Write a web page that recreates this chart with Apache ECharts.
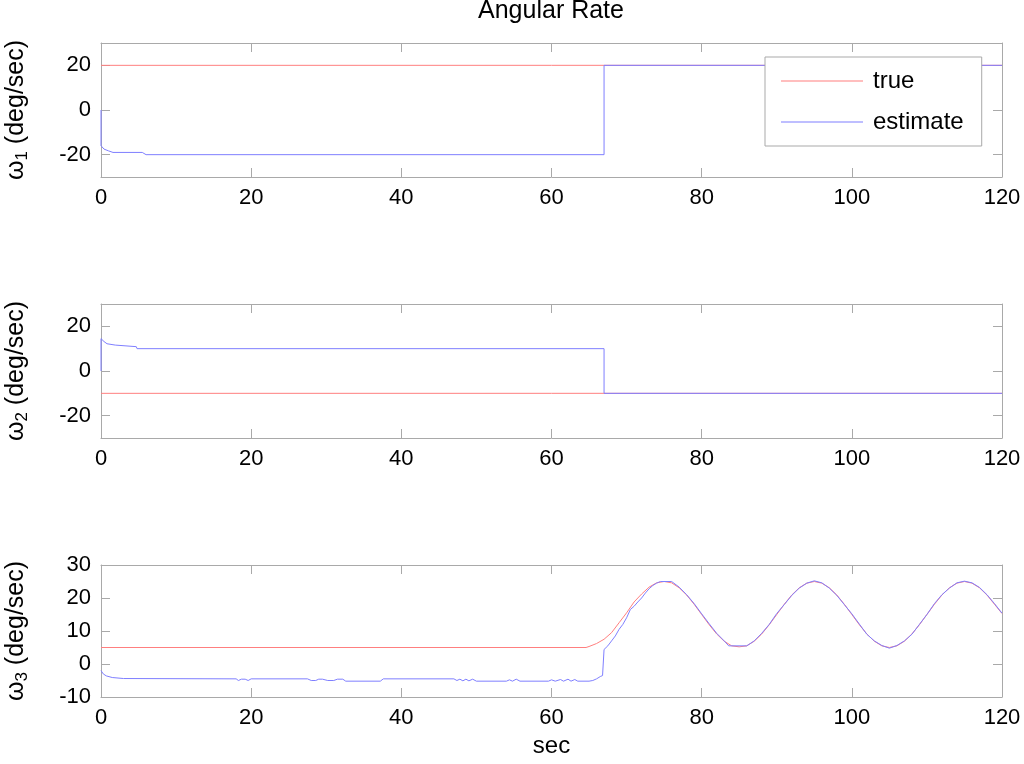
<!DOCTYPE html>
<html>
<head>
    <meta charset="UTF-8">
    <title>Angular Rate</title>
    <script src="https://cdn.jsdelivr.net/npm/echarts@6/dist/echarts.min.js"></script>
    <style>
        html, body { margin: 0; padding: 0; background: #fff; }
        #container { width: 1024px; height: 764px; }
    </style>
</head>
<body>
<div id="container"></div>
<script>

    // x tick labels (sec) and y tick labels per panel
    var xTicks = [0, 20, 40, 60, 80, 100, 120];
    var yTicks12 = [-20, 0, 20];
    var yTicks3 = [-10, 0, 10, 20, 30];

    // omega 1
    var t1True = [0, 120];
    var w1True = [20, 20];
    var t1Est = [0, 0, 0.4, 1, 1.6, 5.5, 6, 67, 67, 120];
    var w1Est = [0, -16, -17.5, -18.3, -19, -19, -20, -20, 20, 20];

    // omega 2
    var t2True = [0, 120];
    var w2True = [-10, -10];
    var t2Est = [0, 0, 0.4, 0.8, 1.9, 2, 4.7, 4.8, 67, 67, 120];
    var w2Est = [0, 14.5, 13.2, 12.2, 11.6, 10.9, 10.9, 10, 10, -10, -10];

    // omega 3
    var t3True = [0, 64.6, 65, 66, 67, 68, 69, 70, 71, 72, 73, 74, 75, 76, 77, 78, 79, 80,
        81, 82, 83, 84, 85, 86, 87, 88, 89, 90, 91, 92, 93, 94, 95, 96, 97, 98, 99, 100,
        101, 102, 103, 104, 105, 106, 107, 108, 109, 110, 111, 112, 113, 114, 115, 116,
        117, 118, 119, 120];
    var w3True = [5, 5, 5.3, 6.2, 7.5, 9.5, 12.5, 15.5, 18.8, 21.2, 23.3, 24.6, 25, 24.6,
        23.1, 20.9, 18.1, 15, 11.9, 9.1, 6.9, 5.5, 5.2, 5.5, 6.9, 9.1, 11.9, 15, 18.1,
        20.9, 23.1, 24.5, 25, 24.5, 23.1, 20.9, 18.1, 15, 11.9, 9.1, 6.9, 5.5, 5, 5.5,
        6.9, 9.1, 11.9, 15, 18.1, 20.9, 23.1, 24.5, 25, 24.5, 23.1, 20.9, 18.1, 15.3];
    var t3Est = [0, 0.3, 0.7, 1.5, 3, 18, 18.3, 18.7, 19.2, 19.6, 20, 27.5, 28, 28.6, 29,
        29.5, 30.2, 31, 31.5, 32.2, 32.6, 37.2, 37.6, 47, 47.4, 47.8, 48.2, 48.6, 49, 49.5,
        50, 54, 54.4, 54.8, 55.3, 55.8, 59.6, 60, 60.5, 61.2, 61.6, 62.2, 62.6, 63.1, 63.5,
        65, 65.5, 66, 66.5, 66.8, 67, 67.5, 68, 68.5, 69, 69.5, 70, 70.5, 71, 71.5, 72,
        72.5, 73, 73.5, 74, 74.5, 76, 77, 78, 79, 80, 81, 82, 83, 83.6, 86, 87, 88, 89, 90,
        91, 92, 93, 94, 95, 96, 97, 98, 99, 100, 101, 102, 103, 104, 105, 106, 107, 108,
        109, 110, 111, 112, 113, 114, 115, 116, 117, 118, 119, 120];
    var w3Est = [-2, -3, -3.6, -4.1, -4.4, -4.5, -5, -4.6, -4.6, -5, -4.5, -4.5, -5, -5,
        -4.6, -4.6, -5, -5, -4.6, -4.6, -5.2, -5.2, -4.5, -4.5, -5, -4.6, -5.1, -4.6, -5.1,
        -4.6, -5.2, -5.2, -4.8, -5.2, -4.6, -5.2, -5.2, -4.8, -5.2, -4.7, -5.2, -4.6, -5.2,
        -4.7, -5.2, -5.2, -5, -4.5, -3.8, -3.5, 4.4, 5.5, 7, 8.5, 10.5, 12, 14, 16.5, 17.5,
        18.8, 20, 21.5, 22.8, 23.8, 24.5, 25, 25, 23.3, 21, 18.3, 15.2, 12.2, 9.3, 7, 5.5,
        5.5, 7, 9.3, 12, 15.3, 18, 20.8, 23, 24.5, 25.2, 24.6, 23, 20.8, 18, 15.2, 12.1, 9,
        7, 5.6, 4.8, 5.6, 7, 9, 12, 15, 18.3, 21, 23, 24.6, 25.1, 24.6, 23.2, 21, 18.3,
        15.4];

    var font = "'Liberation Sans', Arial, sans-serif";
    var boxColor = '#a9a9a9';
    var redLine = '#ff7f7f';
    var blueLine = '#7f7fff';

    function pairs(t, v) {
        var out = [];
        for (var i = 0; i < t.length; i++) out.push([t[i], v[i]]);
        return out;
    }

    var grids = [
        { left: 101, right: 22, top: 43, height: 134, outerBoundsMode: 'none' },
        { left: 101, right: 22, top: 304, height: 134, outerBoundsMode: 'none' },
        { left: 101, right: 22, top: 565, height: 132, outerBoundsMode: 'none' }
    ];

    var xAxes = [], yAxes = [];
    for (var g = 0; g < 3; g++) {
        ['bottom', 'top'].forEach(function (pos) {
            xAxes.push({
                type: 'value', gridIndex: g, position: pos,
                min: xTicks[0], max: xTicks[xTicks.length - 1], interval: 20,
                axisLine: { show: true, onZero: false, lineStyle: { color: boxColor, width: 1 } },
                axisTick: { show: true, inside: true, length: 9, lineStyle: { color: boxColor } },
                axisLabel: {
                    show: pos === 'bottom', color: '#000', fontSize: 22, fontFamily: font, margin: 10
                },
                splitLine: { show: false },
                name: (pos === 'bottom' && g === 2) ? 'sec' : '',
                nameLocation: 'middle', nameGap: 37,
                nameTextStyle: { color: '#000', fontSize: 24, fontFamily: font }
            });
        });
        var ticks = g < 2 ? yTicks12 : yTicks3;
        ['left', 'right'].forEach(function (pos) {
            yAxes.push({
                type: 'value', gridIndex: g, position: pos,
                min: g < 2 ? -30 : -10, max: 30, interval: 10,
                axisLine: { show: true, onZero: false, lineStyle: { color: boxColor, width: 1 } },
                axisTick: { show: true, inside: true, length: 9, customValues: ticks, lineStyle: { color: boxColor } },
                axisLabel: {
                    show: pos === 'left', customValues: ticks, color: '#000',
                    fontSize: 22, fontFamily: font, margin: 10
                },
                splitLine: { show: false },
                name: pos === 'left' ? '{w|ω}{s|' + (g + 1) + '}{w| (deg/sec)}' : '',
                nameLocation: 'middle', nameRotate: 90, nameGap: 70,
                nameTextStyle: {
                    color: '#000', fontFamily: font,
                    rich: {
                        w: { fontSize: 25, fontFamily: font, color: '#000', lineHeight: 30 },
                        s: { fontSize: 17, fontFamily: font, color: '#000', lineHeight: 14, verticalAlign: 'bottom' }
                    }
                }
            });
        });
    }

    function line(name, color, g, t, v) {
        return {
            name: name, type: 'line', xAxisIndex: g * 2, yAxisIndex: g * 2,
            data: pairs(t, v), symbol: 'none', showSymbol: false,
            lineStyle: { color: color, width: 1 }, itemStyle: { color: color },
            silent: true
        };
    }

    var mychart = echarts.init(document.getElementById('container'));
    var option = {
        animation: false,
        backgroundColor: '#fff',
        title: {
            text: 'Angular Rate', left: 551, textAlign: 'center', top: -1, padding: 0,
            textStyle: { fontSize: 25, fontWeight: 'normal', color: '#000', fontFamily: font }
        },
        legend: {
            data: [{ name: 'true', icon: 'rect' }, { name: 'estimate', icon: 'rect' }],
            orient: 'vertical', left: 765, top: 57,
            backgroundColor: '#fff', borderColor: boxColor, borderWidth: 1,
            padding: [12, 18, 12, 16], itemGap: 17, itemWidth: 82, itemHeight: 1,
            textStyle: { fontSize: 24, color: '#000', fontFamily: font, padding: [0, 0, 0, 5] },
            z: 10
        },
        grid: grids,
        xAxis: xAxes,
        yAxis: yAxes,
        series: [
            line('true', redLine, 0, t1True, w1True),
            line('estimate', blueLine, 0, t1Est, w1Est),
            line('true', redLine, 1, t2True, w2True),
            line('estimate', blueLine, 1, t2Est, w2Est),
            line('true', redLine, 2, t3True, w3True),
            line('estimate', blueLine, 2, t3Est, w3Est)
        ]
    };
    mychart.setOption(option);

</script>
</body>
</html>
